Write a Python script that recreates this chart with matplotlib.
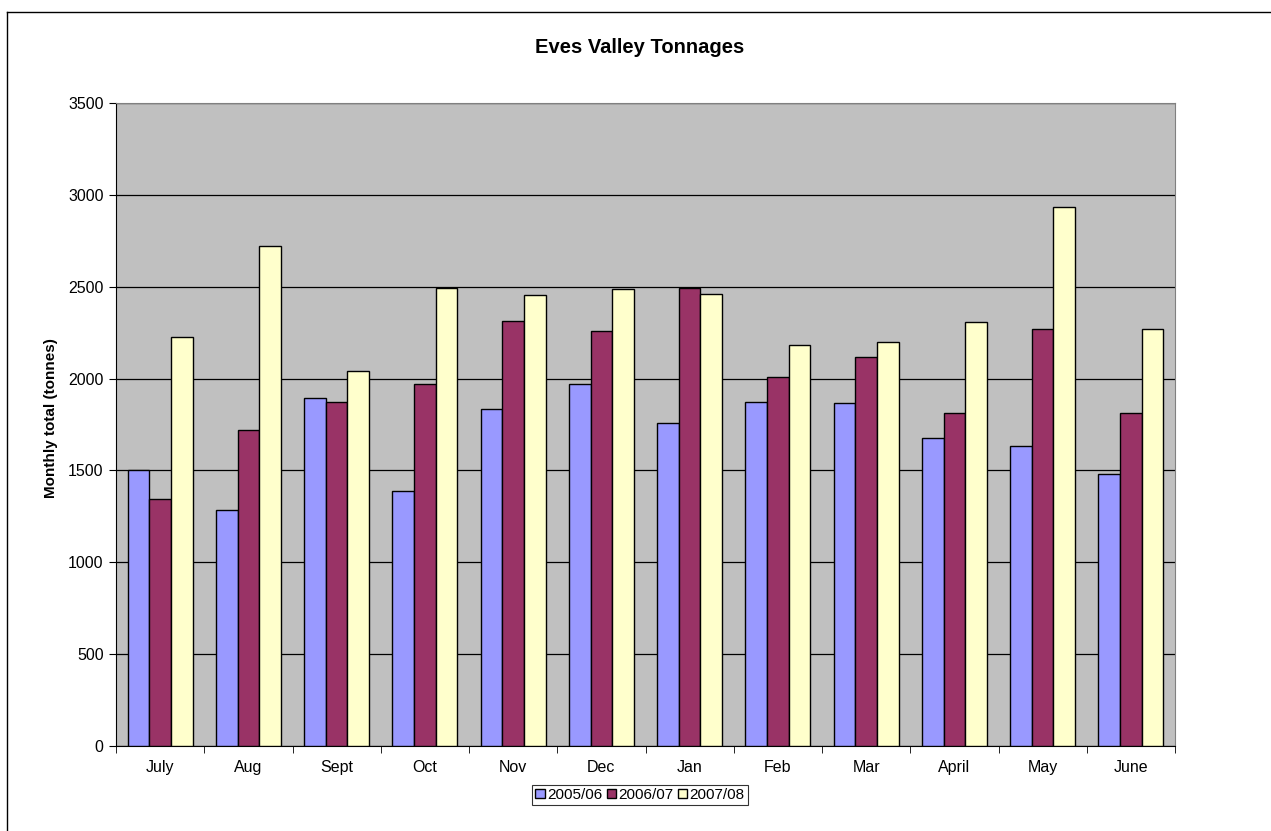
import matplotlib.pyplot as plt
from matplotlib.lines import Line2D
import numpy as np

plt.rcParams['font.family'] = ['Liberation Sans', 'DejaVu Sans']

months = ["July", "Aug", "Sept", "Oct", "Nov", "Dec", "Jan", "Feb", "Mar", "April", "May", "June"]
s2005 = [1505, 1287, 1897, 1388, 1834, 1972, 1758, 1873, 1865, 1679, 1634, 1479]
s2006 = [1345, 1719, 1871, 1968, 2315, 2257, 2491, 2006, 2115, 1810, 2271, 1810]
s2007 = [2228, 2723, 2040, 2495, 2455, 2489, 2461, 2182, 2200, 2309, 2935, 2271]
series = ["2005/06", "2006/07", "2007/08"]
colors = ["#9999FF", "#993366", "#FFFFCC"]

fig = plt.figure(figsize=(12.71, 8.31), dpi=100)
ax = fig.add_axes([0.0913, 0.1023, 0.8332, 0.7737])
ax.set_facecolor("#C0C0C0")

x = np.arange(len(months))
w = 0.245
for i, (vals, lab, c) in enumerate(zip([s2005, s2006, s2007], series, colors)):
    ax.bar(x + (i - 1) * w, vals, w, color=c, edgecolor="black", linewidth=1, label=lab, zorder=3)

ax.set_xlim(-0.5, len(months) - 0.5)
ax.set_ylim(0, 3500)
ax.set_yticks(range(0, 3501, 500))
ax.yaxis.grid(True, color="black", linewidth=0.9, zorder=1)
ax.set_axisbelow(True)

ax.set_xticks(x)
ax.set_xticklabels(months, fontsize=11.5)
ax.set_xticks(np.arange(-0.5, len(months), 1), minor=True)
ax.tick_params(axis="x", which="major", length=0, pad=10)
ax.tick_params(axis="x", which="minor", length=5, direction="out", color="black")
ax.tick_params(axis="y", length=5, direction="out", labelsize=11.5, pad=4)

for s in ["top", "right"]:
    ax.spines[s].set_color("#808080")
for s in ["left", "bottom"]:
    ax.spines[s].set_color("black")

ax.set_ylabel("Monthly total (tonnes)", fontsize=11, fontweight="bold")
ax.yaxis.set_label_coords(-0.0548, 0.51)
fig.text(0.5035, 0.9434, "Eves Valley Tonnages", ha="center", va="center", fontsize=14.5, fontweight="bold")

leg = fig.legend(loc="center", bbox_to_anchor=(0.5035, 0.0433), ncol=3, fontsize=11,
                 frameon=True, fancybox=False, edgecolor="black", handlelength=0.6,
                 handleheight=0.6, handletextpad=0.15, columnspacing=0.3, borderpad=0.2,
                 borderaxespad=0)
leg.get_frame().set_linewidth(0.8)

fig.add_artist(Line2D([0.0055, 0.0055], [0, 0.9856], color="black", linewidth=1, transform=fig.transFigure))
fig.add_artist(Line2D([0.0055, 1.0], [0.9856, 0.9856], color="black", linewidth=1, transform=fig.transFigure))

fig.savefig("out.png", dpi=100)
